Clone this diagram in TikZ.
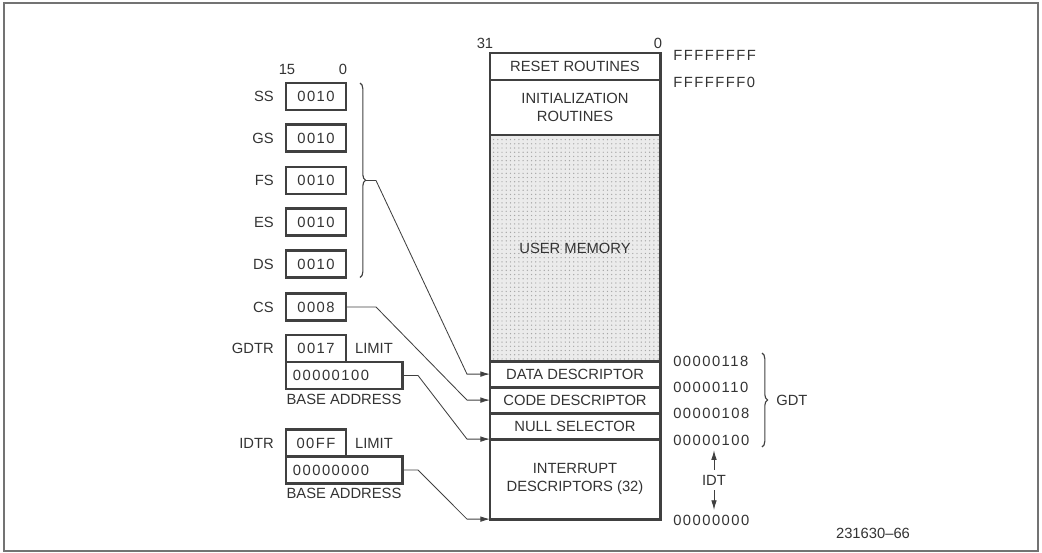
\documentclass[tikz,border=0pt]{standalone}
\usepackage{fontspec}
\setmainfont{Liberation Sans}
\newfontfamily\numfont[LetterSpace=10]{Liberation Sans}
\usetikzlibrary{arrows.meta, positioning, calc, patterns, decorations.pathreplacing}

\begin{document}
\begin{tikzpicture}[
  x=0.025cm, y=-0.025cm,
  font=\fontsize{10.5}{13}\selectfont,
  row/.style={draw=black!75, line width=2.1pt, minimum width=4.25cm, inner sep=0pt,
              outer sep=0pt, align=center, text=black!80},
  reg/.style={draw=black!75, line width=2.1pt, minimum width=1.5cm, minimum height=0.675cm,
              inner sep=0pt, outer sep=0pt, text=black!80, font=\fontsize{10.5}{13}\numfont},
  base/.style={reg, text width=2.55cm, inner xsep=0.175cm, align=left},
  lbl/.style={inner sep=0pt, text=black!80},
  addr/.style={inner xsep=0pt, anchor=west, text=black!80, font=\fontsize{10.5}{13}\numfont},
  arrow/.style={-{Latex[length=2.4mm, width=1.4mm]}, line width=0.6pt, black!75},
  brc/.style={decorate, decoration={brace, amplitude=4pt}, line width=0.8pt, black!75}
]
  \useasboundingbox (0,0) rectangle (1042,553);
  \draw[black!55, line width=1.2pt] (4,3) rectangle (1038,551);

  \node[row, minimum height=0.675cm] (reset) at (575,66.5) {RESET ROUTINES};
  \node[row, minimum height=1.375cm, below=0pt of reset] (init) {INITIALIZATION\\ROUTINES};
  \node[row, minimum height=5.65cm, below=0pt of init, preaction={fill=black!8},
        pattern=dots, pattern color=black!35] (user) {USER MEMORY};
  \node[row, minimum height=0.65cm, below=0pt of user] (data) {DATA DESCRIPTOR};
  \node[row, minimum height=0.65cm, below=0pt of data] (code) {CODE DESCRIPTOR};
  \node[row, minimum height=0.65cm, below=0pt of code] (null) {NULL SELECTOR};
  \node[row, minimum height=2cm, below=0pt of null] (intr) {INTERRUPT\\DESCRIPTORS (32)};

  \node[lbl] (b31) at ($(reset.north west)+(-5,-10)$) {31};
  \node[lbl] (b0) at ($(reset.north east)+(-2,-10)$) {0};

  \node[addr] (aF) at ($(reset.north east)+(13,2)$) {FFFFFFFF};
  \node[addr] (aF0) at ($(init.north east)+(13,2)$) {FFFFFFF0};
  \node[addr] (a118) at ($(data.north east)+(13,0)$) {00000118};
  \node[addr] (a110) at ($(code.north east)+(13,0)$) {00000110};
  \node[addr] (a108) at ($(null.north east)+(13,0)$) {00000108};
  \node[addr] (a100) at ($(intr.north east)+(13,1)$) {00000100};
  \node[addr] (a000) at ($(intr.south east)+(13,1)$) {00000000};

  \coordinate (gtop) at (762,353);
  \coordinate (gbot) at (762,447);
  \draw[brc] (gtop) -- (gbot);
  \node[lbl, anchor=west] (gdt) at ($(gtop)!0.5!(gbot)+(14,0)$) {GDT};

  \node[lbl, inner sep=3.5pt] (idt) at (714,480) {IDT};
  \draw[arrow] (idt.north) -- (idt.north |- a100.south);
  \draw[arrow] (idt.south) -- (idt.south |- a000.north);

  \foreach \r/\y in {SS/96.5, GS/138, FS/180.5, ES/222, DS/264} {
    \node[reg] (\r) at (316,\y) {0010};
    \node[lbl, left=0.3cm of \r] {\r};
  }
  \node[lbl] (r15) at ($(SS.north west)+(1,-14)$) {15};
  \node[lbl] (r0) at ($(SS.north east)+(-3,-14)$) {0};
  \draw[brc] ($(SS.north east)+(14,0)$) -- ($(DS.south east)+(14,0)$);
  \coordinate (segtip) at ($(FS.east)+(20,0)$);

  \node[reg] (CS) at (316,307) {0008};
  \node[lbl, left=0.3cm of CS] {CS};

  \node[reg] (gdtrlim) at (316,348.5) {0017};
  \node[base, anchor=north west] (gdtrbase) at (gdtrlim.south west) {00000100};
  \node[lbl, left=0.3cm of gdtrlim] {GDTR};
  \node[lbl, right=0.22cm of gdtrlim] {LIMIT};
  \node[lbl, below=0.12cm of gdtrbase] {BASE ADDRESS};

  \node[reg] (idtrlim) at (316,443) {00FF};
  \node[base, anchor=north west] (idtrbase) at (idtrlim.south west) {00000000};
  \node[lbl, left=0.3cm of idtrlim] {IDTR};
  \node[lbl, right=0.22cm of idtrlim] {LIMIT};
  \node[lbl, below=0.12cm of idtrbase] {BASE ADDRESS};

  \draw[arrow] (segtip) -- ++(10,0) -- ($(data.west)+(-23,0)$) -- (data.west);
  \draw[arrow] (CS.east) -- ++(30,0) -- ($(code.west)+(-23,0)$) -- (code.west);
  \draw[arrow] (gdtrbase.east) -- ++(16,0) -- ($(null.south west)+(-23,0)$) -- (null.south west);
  \draw[arrow] (idtrbase.east) -- ++(16,0) -- ($(intr.south west)+(-23,0)$) -- (intr.south west);

  \node[lbl] (fig) at (873,533) {231630--66};
\end{tikzpicture}
\end{document}
